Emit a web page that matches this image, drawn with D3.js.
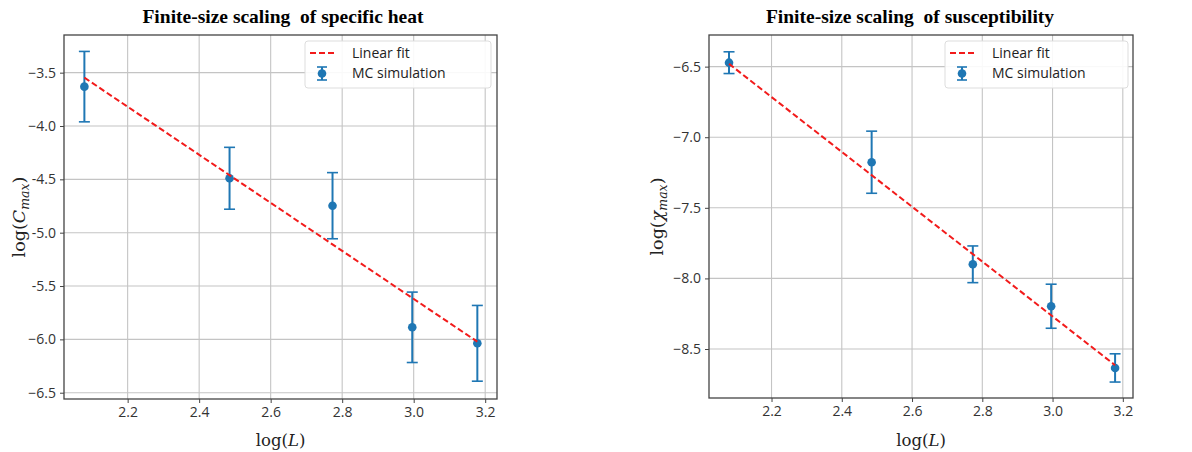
<!DOCTYPE html>
<html><head><meta charset="utf-8">
<script src="https://cdn.jsdelivr.net/npm/d3@7"></script>
<style>body{margin:0;background:#fff}svg{display:block}</style>
</head><body>
<svg id="c" width="1192" height="452"></svg>
<script>
// ---- data ----
const logL = [2.079, 2.485, 2.773, 2.996, 3.178];
const logCmax = [-3.631, -4.49, -4.747, -5.887, -6.037];
const errC = [0.33, 0.29, 0.31, 0.33, 0.355];
const fitC = {slope: -2.252, intercept: 1.135};
const logChiMax = [-6.472, -7.177, -7.90, -8.197, -8.634];
const errChi = [0.077, 0.22, 0.13, 0.156, 0.10];
const fitChi = {slope: -1.942, intercept: -2.443};
const xTicks = [2.2, 2.4, 2.6, 2.8, 3.0, 3.2];
const xTickLabels = ["2.2", "2.4", "2.6", "2.8", "3.0", "3.2"];
const yTicksC = [-3.5, -4.0, -4.5, -5.0, -5.5, -6.0, -6.5];
const yTickLabelsC = ["\u22123.5", "\u22124.0", "-4.5", "-5.0", "-5.5", "\u22126.0", "\u22126.5"];
const yTicksChi = [-6.5, -7.0, -7.5, -8.0, -8.5];
const yTickLabelsChi = ["\u22126.5", "\u22127.0", "\u22127.5", "\u22128.0", "\u22128.5"];
const legendLabels = ["Linear fit", "MC simulation"];

const svg = d3.select("#c");
const blue = "#1f77b4";

function panel(cfg) {
  const g = svg.append("g");
  const x = d3.scaleLinear().domain(cfg.xDomain).range([cfg.left, cfg.right]);
  const y = d3.scaleLinear().domain(cfg.yDomain).range([cfg.bottom, cfg.top]);

  // grid
  g.append("g").selectAll("line").data(xTicks).join("line")
    .attr("x1", d => x(d)).attr("x2", d => x(d)).attr("y1", cfg.top).attr("y2", cfg.bottom)
    .attr("stroke", "#c4c4c4").attr("stroke-width", 1.1);
  g.append("g").selectAll("line").data(cfg.yTicks).join("line")
    .attr("y1", d => y(d)).attr("y2", d => y(d)).attr("x1", cfg.left).attr("x2", cfg.right)
    .attr("stroke", "#c4c4c4").attr("stroke-width", 1.1);

  // axes
  const xa = g.append("g").attr("transform", `translate(0,${cfg.bottom})`)
    .call(d3.axisBottom(x).tickValues(xTicks).tickFormat((d, i) => xTickLabels[i]).tickSize(4).tickPadding(4));
  const ya = g.append("g").attr("transform", `translate(${cfg.left},0)`)
    .call(d3.axisLeft(y).tickValues(cfg.yTicks).tickFormat((d, i) => cfg.yLabels[i]).tickSize(4).tickPadding(4));
  [xa, ya].forEach(a => {
    a.select(".domain").remove();
    a.selectAll("line").attr("stroke", "#444");
    a.selectAll("text").attr("fill", "#333").style("font-family", "'Open Sans', 'Noto Sans', sans-serif").style("font-size", "14px");
  });
  g.append("rect").attr("x", cfg.left).attr("y", cfg.top)
    .attr("width", cfg.right - cfg.left).attr("height", cfg.bottom - cfg.top)
    .attr("fill", "none").attr("stroke", "#444").attr("stroke-width", 1.3);

  // error bars
  const eb = g.append("g").selectAll("g").data(logL.map((v, i) => ({x: v, y: cfg.ys[i], e: cfg.errs[i]}))).join("g");
  eb.append("line").attr("x1", d => x(d.x)).attr("x2", d => x(d.x))
    .attr("y1", d => y(d.y - d.e)).attr("y2", d => y(d.y + d.e))
    .attr("stroke", blue).attr("stroke-width", 2);
  [1, -1].forEach(s => eb.append("line")
    .attr("x1", d => x(d.x) - 5.5).attr("x2", d => x(d.x) + 5.5)
    .attr("y1", d => y(d.y + s * d.e)).attr("y2", d => y(d.y + s * d.e))
    .attr("stroke", blue).attr("stroke-width", 1.6));
  eb.append("circle").attr("cx", d => x(d.x)).attr("cy", d => y(d.y)).attr("r", 4.3).attr("fill", blue);

  // fit line
  const x0 = logL[0], x1 = logL[logL.length - 1];
  g.append("line").attr("x1", x(x0)).attr("x2", x(x1))
    .attr("y1", y(cfg.fit.slope * x0 + cfg.fit.intercept))
    .attr("y2", y(cfg.fit.slope * x1 + cfg.fit.intercept))
    .attr("stroke", "#f21b1b").attr("stroke-width", 2).attr("stroke-dasharray", "6,3");

  // legend
  const lg = g.append("g").attr("transform", `translate(${cfg.legX},${cfg.top + 6})`);
  lg.append("rect").attr("width", cfg.legW).attr("height", 47).attr("rx", 3)
    .attr("fill", "#fff").attr("fill-opacity", 0.9).attr("stroke", "#ddd");
  lg.append("line").attr("x1", 5).attr("x2", 29).attr("y1", 12).attr("y2", 12)
    .attr("stroke", "#f21b1b").attr("stroke-width", 2).attr("stroke-dasharray", "6,3");
  lg.append("line").attr("x1", 17).attr("x2", 17).attr("y1", 26).attr("y2", 39).attr("stroke", blue).attr("stroke-width", 2);
  lg.append("line").attr("x1", 12).attr("x2", 22).attr("y1", 26).attr("y2", 26).attr("stroke", blue).attr("stroke-width", 1.6);
  lg.append("line").attr("x1", 12).attr("x2", 22).attr("y1", 39).attr("y2", 39).attr("stroke", blue).attr("stroke-width", 1.6);
  lg.append("circle").attr("cx", 17).attr("cy", 32.5).attr("r", 4.3).attr("fill", blue);
  lg.selectAll("text.l").data(legendLabels).join("text").attr("class", "l")
    .attr("x", 47).attr("y", (d, i) => 17 + i * 19.5)
    .attr("fill", "#222").style("font-family", "'Open Sans', 'Noto Sans', sans-serif").style("font-size", "14px")
    .text(d => d);

  // title
  svg.append("text").attr("x", cfg.titleX).attr("y", 22.5).attr("text-anchor", "middle")
    .style("font-family", "'Liberation Serif', 'Times New Roman', serif").style("font-weight", "bold").style("font-size", "19.5px")
    .style("white-space", "pre").attr("xml:space", "preserve")
    .text(cfg.title);

  // x label
  const xl = svg.append("text").attr("x", (cfg.left + cfg.right) / 2).attr("y", 446).attr("text-anchor", "middle")
    .style("font-family", "'DejaVu Serif', 'Liberation Serif', serif").style("font-size", "16.5px").attr("fill", "#222");
  xl.append("tspan").text("log(");
  xl.append("tspan").style("font-style", "italic").text("L");
  xl.append("tspan").text(")");

  // y label
  const yl = svg.append("text").attr("transform", `translate(${cfg.yLabelX},${(cfg.top + cfg.bottom) / 2}) rotate(-90)`)
    .attr("text-anchor", "middle")
    .style("font-family", "'DejaVu Serif', 'Liberation Serif', serif").style("font-size", "17.5px").attr("fill", "#222");
  yl.append("tspan").text("log(");
  yl.append("tspan").style("font-style", "italic").text(cfg.sym);
  yl.append("tspan").style("font-style", "italic").style("font-size", "12.5px").attr("dy", 4).text("max");
  yl.append("tspan").attr("dy", -4).text(")");
}

panel({left: 64, right: 497, top: 35, bottom: 399, xDomain: [2.022, 3.233], yDomain: [-6.559, -3.147],
  yTicks: yTicksC, yLabels: yTickLabelsC, ys: logCmax, errs: errC, fit: fitC,
  legX: 305, legW: 186, title: "Finite-size scaling  of specific heat", titleX: 283, yLabelX: 25, sym: "C"});
panel({left: 709, right: 1133, top: 35, bottom: 398, xDomain: [2.022, 3.229], yDomain: [-8.847, -6.276],
  yTicks: yTicksChi, yLabels: yTickLabelsChi, ys: logChiMax, errs: errChi, fit: fitChi,
  legX: 945, legW: 183, title: "Finite-size scaling  of susceptibility", titleX: 910, yLabelX: 663, sym: "\u03c7"});
</script>
</body></html>
